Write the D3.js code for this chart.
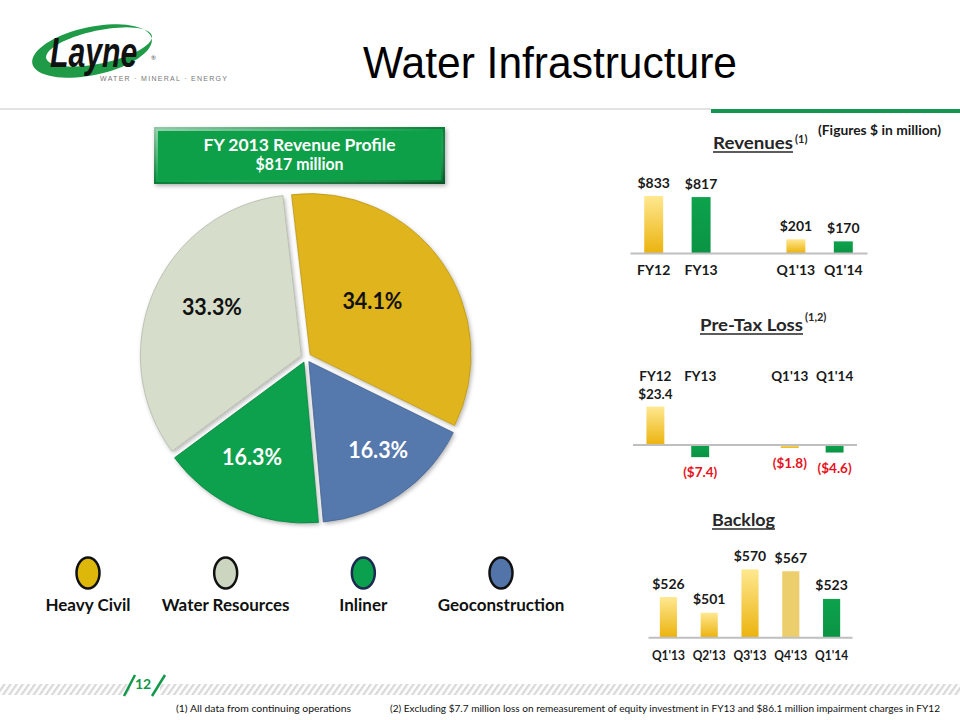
<!DOCTYPE html>
<html><head><meta charset="utf-8">
<script src="https://cdn.jsdelivr.net/npm/d3@7"></script>
<style>body{margin:0;background:#fff}svg{display:block}</style>
</head><body>
<script>
// ---------------- DATA ----------------
const segments = ["Heavy Civil", "Geoconstruction", "Inliner", "Water Resources"];
const segmentShares = [34.1, 16.3, 16.3, 33.3];
const legendItems = ["Heavy Civil", "Water Resources", "Inliner", "Geoconstruction"];

const revenueCategories = ["FY12", "FY13", " ", "Q1'13", "Q1'14"];
const revenueValues = [833, 817, null, 201, 170];

const lossCategories = ["FY12", "FY13", " ", "Q1'13", "Q1'14"];
const lossValues = [23.4, -7.4, null, -1.8, -4.6];

const backlogCategories = ["Q1'13", "Q2'13", "Q3'13", "Q4'13", "Q1'14"];
const backlogValues = [526, 501, 570, 567, 523];

// ---------------- STYLE ----------------
const FONT = "Lato, 'Open Sans', sans-serif";
const segColor = {"Heavy Civil": "#DFB41C", "Geoconstruction": "#5478AD", "Inliner": "#0AA04E", "Water Resources": "#D6DDCB"};
const legendColor = {"Heavy Civil": "#DDB80A", "Water Resources": "#CCD5BF", "Inliner": "#0BA04E", "Geoconstruction": "#5274A8"};
const legendStroke = {"Heavy Civil": "#111", "Water Resources": "#111", "Inliner": "#1C2A50", "Geoconstruction": "#111"};
const labelColor = {"Heavy Civil": "#111", "Geoconstruction": "#fff", "Inliner": "#fff", "Water Resources": "#111"};
const labelLayout = {"Heavy Civil": {r: 87, da: -5}, "Geoconstruction": {r: 117, da: -3.6}, "Inliner": {r: 113, da: 4.3}, "Water Resources": {r: 107, da: 5}};

const svg = d3.select("body").append("svg").attr("width", 960).attr("height", 720)
  .style("font-family", FONT);
const defs = svg.append("defs");

// gradients
const gy = defs.append("linearGradient").attr("id", "gy").attr("x1", 0).attr("y1", 0).attr("x2", 0).attr("y2", 1);
gy.append("stop").attr("offset", 0).attr("stop-color", "#FFE890");
gy.append("stop").attr("offset", 1).attr("stop-color", "#EBB30E");
const gg = defs.append("linearGradient").attr("id", "gg").attr("x1", 0).attr("y1", 0).attr("x2", 0).attr("y2", 1);
gg.append("stop").attr("offset", 0).attr("stop-color", "#0DA24C");
gg.append("stop").attr("offset", 1).attr("stop-color", "#0A9444");
const bev = defs.append("linearGradient").attr("id", "bev").attr("x1", 0).attr("y1", 0).attr("x2", 1).attr("y2", 1);
bev.append("stop").attr("offset", 0).attr("stop-color", "#fff").attr("stop-opacity", 0.55);
bev.append("stop").attr("offset", 0.5).attr("stop-color", "#fff").attr("stop-opacity", 0);
bev.append("stop").attr("offset", 1).attr("stop-color", "#000").attr("stop-opacity", 0.3);
const sh = defs.append("filter").attr("id", "sh").attr("x", "-10%").attr("y", "-10%").attr("width", "130%").attr("height", "130%");
sh.append("feDropShadow").attr("dx", 1.5).attr("dy", 2).attr("stdDeviation", 2).attr("flood-color", "#000").attr("flood-opacity", 0.3);
const hatch = defs.append("pattern").attr("id", "hatch").attr("patternUnits", "userSpaceOnUse")
  .attr("width", 5).attr("height", 5).attr("patternTransform", "rotate(35)");
hatch.append("rect").attr("width", 2.3).attr("height", 5).attr("fill", "#D9D9D9");

// ---------------- HEADER ----------------
const logo = svg.append("g");
function ellipsePath(cx, cy, rx, ry, rot) {
  const p = d3.path();
  const n = 72;
  const c = Math.cos(rot * Math.PI / 180), s = Math.sin(rot * Math.PI / 180);
  for (let i = 0; i <= n; i++) {
    const t = i / n * 2 * Math.PI;
    const x = rx * Math.cos(t), y = ry * Math.sin(t);
    const X = cx + x * c - y * s, Y = cy + x * s + y * c;
    i ? p.lineTo(X, Y) : p.moveTo(X, Y);
  }
  p.closePath();
  return p.toString();
}
logo.append("path")
  .attr("d", ellipsePath(92, 51, 61, 24, -12) + ellipsePath(99, 47, 54, 16.5, -12))
  .attr("fill", "#1F9B48").attr("fill-rule", "evenodd");
logo.append("text").attr("transform", "translate(50,67) scale(0.72,1)")
  .attr("font-family", "'Liberation Sans', Arial, sans-serif")
  .attr("font-weight", 700).attr("font-style", "italic").attr("font-size", 42)
  .attr("fill", "#111").text("Layne");
logo.append("text").attr("x", 151).attr("y", 60).attr("font-size", 6).attr("fill", "#555").text("®");
logo.append("text").attr("x", 100).attr("y", 81).attr("font-family", "'Liberation Sans', Arial, sans-serif")
  .attr("font-size", 7).attr("fill", "#777").attr("textLength", 127).attr("lengthAdjust", "spacing")
  .text("WATER · MINERAL · ENERGY");

svg.append("text").attr("x", 363).attr("y", 78).attr("font-family", "'Liberation Sans', Arial, sans-serif")
  .attr("font-size", 44).attr("fill", "#000").attr("textLength", 374).attr("lengthAdjust", "spacingAndGlyphs")
  .text("Water Infrastructure");
svg.append("line").attr("x1", 0).attr("x2", 711).attr("y1", 109).attr("y2", 109).attr("stroke", "#DADADA").attr("stroke-width", 1.5);
svg.append("rect").attr("x", 711).attr("y", 109).attr("width", 249).attr("height", 4).attr("fill", "#149653");

// ---------------- PIE ----------------
const box = svg.append("g");
box.append("rect").attr("x", 155).attr("y", 128).attr("width", 289).attr("height", 55)
  .attr("fill", "#10A04A").attr("stroke", "#0B7B39").attr("stroke-width", 2).attr("filter", "url(#sh)");
box.append("rect").attr("x", 156).attr("y", 129).attr("width", 287).attr("height", 53)
  .attr("fill", "none").attr("stroke", "url(#bev)").attr("stroke-width", 4);
box.append("text").attr("x", 299.5).attr("y", 151).attr("text-anchor", "middle").attr("fill", "#fff")
  .attr("font-weight", 700).attr("font-size", 17).attr("textLength", 192).attr("lengthAdjust", "spacingAndGlyphs")
  .text("FY 2013 Revenue Profile");
box.append("text").attr("x", 299.5).attr("y", 170).attr("text-anchor", "middle").attr("fill", "#fff")
  .attr("font-weight", 700).attr("font-size", 17).attr("textLength", 88).attr("lengthAdjust", "spacingAndGlyphs")
  .text("$817 million");

const cx = 306, cy = 357.5, R = 161, EXPLODE = 5;
const deg = Math.PI / 180;
const pieData = d3.pie().sort(null).startAngle(-6.6 * deg).endAngle((360 - 6.6) * deg)
  .value(d => d.v)(segments.map((s, i) => ({s, v: segmentShares[i]})));
const arc = d3.arc().innerRadius(0).outerRadius(R);
pieData.forEach((d, i) => {
  const mid = (d.startAngle + d.endAngle) / 2;
  const ox = Math.sin(mid) * EXPLODE, oy = -Math.cos(mid) * EXPLODE;
  const path = arc(d);
  const tr = `translate(${cx + ox},${cy + oy})`;
  defs.append("clipPath").attr("id", "cp" + i).append("path").attr("d", path).attr("transform", tr);
  svg.append("path").attr("d", path).attr("transform", tr).attr("fill", segColor[d.data.s]).attr("filter", "url(#sh)");
  svg.append("path").attr("d", path).attr("transform", tr)
    .attr("clip-path", `url(#cp${i})`).attr("fill", "none").attr("stroke", "url(#bev)").attr("stroke-width", 12);
  svg.append("path").attr("d", path).attr("transform", tr)
    .attr("fill", "none").attr("stroke", d3.color(segColor[d.data.s]).darker(0.5)).attr("stroke-width", 0.8);
});
pieData.forEach(d => {
  const L = labelLayout[d.data.s];
  const a = (d.startAngle + d.endAngle) / 2 + L.da * deg;
  svg.append("text").attr("x", cx + Math.sin(a) * L.r).attr("y", cy - Math.cos(a) * L.r + 8)
    .attr("text-anchor", "middle").attr("font-weight", 700).attr("font-size", 22)
    .attr("fill", labelColor[d.data.s]).attr("textLength", 60).attr("lengthAdjust", "spacingAndGlyphs")
    .text(d.data.v.toFixed(1) + "%");
});

// legend
const legX = d3.scalePoint().domain(legendItems).range([88, 501]);
legendItems.forEach(k => {
  svg.append("ellipse").attr("cx", legX(k)).attr("cy", 573).attr("rx", 11.5).attr("ry", 15.5)
    .attr("fill", legendColor[k]).attr("stroke", legendStroke[k]).attr("stroke-width", 2.5);
  svg.append("text").attr("x", legX(k)).attr("y", 611).attr("text-anchor", "middle")
    .attr("font-weight", 700).attr("font-size", 17).attr("fill", "#111").text(k);
});

// ---------------- HELPERS ----------------
function barFill(chart, cat) {
  if (cat === "Q1'14" || ((chart === "rev" || chart === "loss") && cat === "FY13")) return "url(#gg)";
  if (chart === "backlog" && cat === "Q4'13") return "#ECCF6C";
  return "url(#gy)";
}
function title(txt, x, y, w, sup, supDx, supDy) {
  svg.append("text").attr("x", x).attr("y", y).attr("font-weight", 700).attr("font-size", 17)
    .attr("fill", "#262626").attr("textLength", w).attr("lengthAdjust", "spacingAndGlyphs").text(txt);
  svg.append("line").attr("x1", x).attr("x2", x + w).attr("y1", y + 3).attr("y2", y + 3)
    .attr("stroke", "#262626").attr("stroke-width", 1.4);
  if (sup) svg.append("text").attr("x", x + w + supDx).attr("y", y + supDy).attr("font-weight", 700)
    .attr("font-size", 11).attr("fill", "#262626").text(sup);
}
function styleAxis(g, size) {
  g.selectAll("text").attr("font-family", FONT).attr("font-weight", 700).attr("font-size", size || 14).attr("fill", "#1a1a1a");
}

// ---------------- REVENUES ----------------
svg.append("text").attr("x", 818).attr("y", 135).attr("font-weight", 700).attr("font-size", 14).attr("fill", "#1a1a1a")
  .attr("textLength", 123).attr("lengthAdjust", "spacingAndGlyphs").text("(Figures $ in million)");
title("Revenues", 713, 149, 80, "(1)", 2, -6);
const xr = d3.scaleBand().domain(revenueCategories).range([630, 867]).paddingInner(0.6).paddingOuter(0.3);
const yr = d3.scaleLinear().domain([0, 900]).range([253, 253 - 61.6]);
revenueCategories.forEach((c, i) => {
  const v = revenueValues[i];
  if (v == null) return;
  svg.append("rect").attr("x", xr(c)).attr("width", xr.bandwidth()).attr("y", yr(v)).attr("height", yr(0) - yr(v))
    .attr("fill", barFill("rev", c));
  svg.append("text").attr("x", xr(c) + xr.bandwidth() / 2).attr("y", yr(v) - 8).attr("text-anchor", "middle")
    .attr("font-weight", 700).attr("font-size", 14).attr("fill", "#1a1a1a").text("$" + v);
});
const axR = svg.append("g").attr("transform", `translate(0,${yr(0)})`)
  .call(d3.axisBottom(xr).tickSize(0).tickSizeOuter(0).tickPadding(12));
axR.select(".domain").attr("stroke", "#BFBFBF").attr("stroke-width", 2);
styleAxis(axR);

// ---------------- PRE-TAX LOSS ----------------
title("Pre-Tax Loss", 700, 331, 103, "(1,2)", 2, -10);
const xl = d3.scaleBand().domain(lossCategories).range([633, 857]).paddingInner(0.6).paddingOuter(0.3);
const yl = d3.scaleLinear().domain([-10, 25]).range([445 + 16.4, 445 - 41]);
const axL = svg.append("g").attr("transform", "translate(0,381)")
  .call(d3.axisTop(xl).tickSize(0).tickPadding(0));
axL.select(".domain").remove();
styleAxis(axL, 13.5);
lossCategories.forEach((c, i) => {
  const v = lossValues[i];
  if (v == null) return;
  const y0 = yl(0), y1 = yl(v);
  svg.append("rect").attr("x", xl(c)).attr("width", xl.bandwidth()).attr("y", Math.min(y0, y1))
    .attr("height", Math.abs(y1 - y0)).attr("fill", barFill("loss", c));
  svg.append("text").attr("x", xl(c) + xl.bandwidth() / 2)
    .attr("y", v >= 0 ? y1 - 7.5 : y1 + 20).attr("text-anchor", "middle")
    .attr("font-weight", 700).attr("font-size", 13.5).attr("fill", v >= 0 ? "#1a1a1a" : "#E5131D")
    .text(v >= 0 ? "$" + v.toFixed(1) : "($" + Math.abs(v).toFixed(1) + ")");
});
svg.append("line").attr("x1", 633).attr("x2", 857).attr("y1", yl(0)).attr("y2", yl(0))
  .attr("stroke", "#BFBFBF").attr("stroke-width", 2);

// ---------------- BACKLOG ----------------
title("Backlog", 712, 526, 63);
const xb = d3.scaleBand().domain(backlogCategories).range([648, 852]).paddingInner(0.58).paddingOuter(0.29);
const yb = d3.scaleLinear().domain([462, 600]).range([637.3, 637.3 - 138 * 0.629]);
backlogCategories.forEach((c, i) => {
  const v = backlogValues[i];
  svg.append("rect").attr("x", xb(c)).attr("width", xb.bandwidth()).attr("y", yb(v)).attr("height", yb(462) - yb(v))
    .attr("fill", barFill("backlog", c));
  svg.append("text").attr("x", xb(c) + xb.bandwidth() / 2).attr("y", yb(v) - 8.5).attr("text-anchor", "middle")
    .attr("font-weight", 700).attr("font-size", 14).attr("fill", "#1a1a1a").text("$" + v);
});
const axB = svg.append("g").attr("transform", `translate(0,${yb(462)})`)
  .call(d3.axisBottom(xb).tickSize(0).tickSizeOuter(0).tickPadding(13));
axB.select(".domain").attr("stroke", "#BFBFBF").attr("stroke-width", 2);
styleAxis(axB, 14);
axB.selectAll(".tick text").attr("textLength", 33).attr("lengthAdjust", "spacingAndGlyphs");

// ---------------- FOOTER ----------------
svg.append("rect").attr("x", 0).attr("y", 684).attr("width", 960).attr("height", 11).attr("fill", "url(#hatch)");
svg.append("rect").attr("x", 130).attr("y", 676).attr("width", 30).attr("height", 20).attr("fill", "#fff");
svg.append("line").attr("x1", 124).attr("y1", 696).attr("x2", 135).attr("y2", 675).attr("stroke", "#12984A").attr("stroke-width", 2.5);
svg.append("line").attr("x1", 152).attr("y1", 696).attr("x2", 165).attr("y2", 675).attr("stroke", "#12984A").attr("stroke-width", 2.5);
svg.append("text").attr("x", 143).attr("y", 689).attr("text-anchor", "middle").attr("font-weight", 700)
  .attr("font-size", 14).attr("fill", "#12984A").text("12");
svg.append("text").attr("x", 176).attr("y", 712).attr("font-size", 10).attr("fill", "#111")
  .attr("textLength", 175).attr("lengthAdjust", "spacingAndGlyphs").text("(1)  All data from continuing operations");
svg.append("text").attr("x", 390).attr("y", 712).attr("font-size", 10).attr("fill", "#111")
  .attr("textLength", 550).attr("lengthAdjust", "spacingAndGlyphs")
  .text("(2) Excluding  $7.7 million loss on remeasurement of equity investment in FY13  and $86.1 million impairment charges in FY12");
</script>
</body></html>
